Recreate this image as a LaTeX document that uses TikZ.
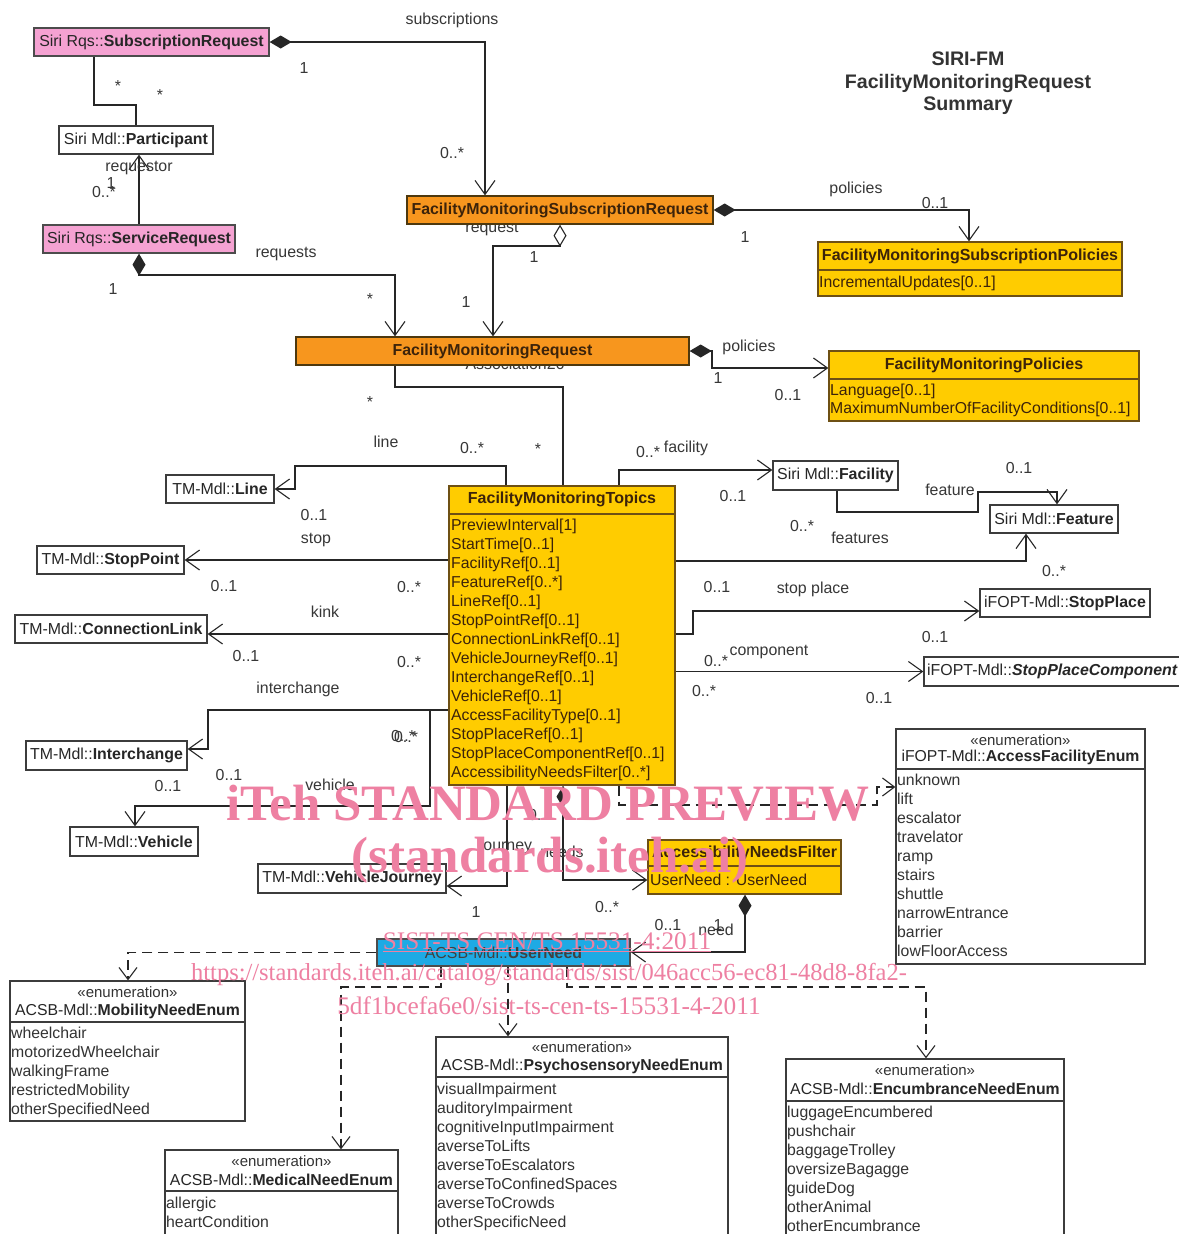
\documentclass[tikz,border=0pt]{standalone}
\usepackage{fontspec}
\setmainfont{Liberation Sans}
\newfontfamily\wmfont{Liberation Serif}
\usetikzlibrary{arrows.meta}
\pgfdeclarelayer{bgzero}
\pgfdeclarelayer{bgone}
\pgfsetlayers{bgzero,bgone,main}
\definecolor{pinkbox}{RGB}{245,162,210}
\definecolor{orangebox}{RGB}{247,150,30}
\definecolor{yellowbox}{RGB}{255,204,0}
\definecolor{bluebox}{RGB}{30,170,228}
\definecolor{boxline}{RGB}{60,60,60}
\definecolor{ybline}{RGB}{110,80,20}
\definecolor{ytext}{RGB}{60,35,10}
\definecolor{lbl}{RGB}{55,55,55}
\definecolor{wm}{RGB}{238,128,162}
\newcommand{\ubox}[7][wbox]{\node[#1, minimum width={#5-#3}, minimum height={#6-#4}] (#2) at ({(#3+#5)/2},{(#4+#6)/2}) {#7};}
\begin{document}
\begin{tikzpicture}[x=1pt,y=-1pt,
  lab/.style={font=\fontsize{15.9}{18}\selectfont, text=lbl, inner sep=0pt, text height=11pt, text depth=0pt},
  boxbase/.style={draw=boxline, line width=1.3pt, inner sep=0pt, font=\fontsize{15.9}{18}\selectfont},
  wbox/.style={boxbase, fill=white, text=black!85},
  pbox/.style={boxbase, fill=pinkbox, draw=black!70, text=black!85},
  obox/.style={boxbase, fill=orangebox, draw=ybline!70!black, text=ytext},
  ybox/.style={boxbase, fill=yellowbox, draw=ybline, text=ytext},
  bbox/.style={boxbase, fill=bluebox, draw=black!70, text=black!75},
  hdr/.style={inner sep=0pt, font=\fontsize{16}{18}\selectfont\bfseries, text=ytext},
  yitem/.style={inner sep=0pt, anchor=west, font=\fontsize{15.8}{18}\selectfont, text=ytext, text height=11pt, text depth=0pt},
  stereo/.style={inner sep=0pt, font=\fontsize{15}{17}\selectfont, text=black!80},
  ename/.style={inner sep=0pt, font=\fontsize{15.8}{18}\selectfont, text=black!85},
  eitem/.style={inner sep=0pt, anchor=west, font=\fontsize{15.8}{18}\selectfont, text=black!80, text height=11pt, text depth=0pt},
  sepy/.style={draw=ybline, line width=1.3pt},
  sepw/.style={draw=boxline, line width=1.3pt},
  ln/.style={draw=black!85, line width=1.2pt},
  nav/.style={ln, -{Straight Barb[length=14pt,width=20pt,line width=1.1pt]}},
  compnav/.style={ln, {Diamond[length=22pt,width=13pt]}-{Straight Barb[length=14pt,width=20pt,line width=1.1pt]}},
  aggnav/.style={ln, {Diamond[open,fill=white,length=22pt,width=13pt,line width=1.1pt]}-{Straight Barb[length=14pt,width=20pt,line width=1.1pt]}},
  depnav/.style={ln, dash pattern=on 10pt off 6pt, -{Straight Barb[length=12pt,width=18pt,line width=1.1pt]}},
  ttl/.style={inner sep=0pt, font=\fontsize{19.6}{22}\selectfont\bfseries, text=black!80},
  wmk/.style={inner sep=0pt, text=wm}
]
\begin{pgfonlayer}{bgzero}
\fill[white] (0,0) rectangle (1178,1234);
\end{pgfonlayer}
\useasboundingbox (0,0) rectangle (1178,1234);

% title
\node[ttl] (t1) at (968,59) {SIRI-FM};
\node[ttl] (t2) at (968,83) {FacilityMonitoringRequest};
\node[ttl] (t3) at (968,106) {Summary};

% ---------- boxes ----------
\ubox[pbox]{subreq}{34}{28}{269}{56}{Siri Rqs::\textbf{SubscriptionRequest}}
\ubox[wbox]{participant}{59}{126}{213}{154}{Siri Mdl::\textbf{Participant}}
\ubox[pbox]{servreq}{43}{225}{235}{253}{Siri Rqs::\textbf{ServiceRequest}}
\ubox[obox]{fmsr}{407}{196}{713}{224}{\textbf{FacilityMonitoringSubscriptionRequest}}
\ubox[ybox]{fmsp}{818}{242}{1122}{296}{}
\node[hdr] (fmsph) at (970,256) {FacilityMonitoringSubscriptionPolicies};
\draw[sepy] (fmsp.west |- 0,270) -- (fmsp.east |- 0,270);
\node[yitem] (fmsp1) at (819,282) {IncrementalUpdates[0..1]};

\ubox[obox]{fmr}{296}{337}{689}{365}{\textbf{FacilityMonitoringRequest}}
\ubox[ybox]{fmp}{829}{351}{1139}{421}{}
\node[hdr] (fmph) at (984,365) {FacilityMonitoringPolicies};
\draw[sepy] (fmp.west |- 0,379) -- (fmp.east |- 0,379);
\node[yitem] (fmp1) at (830,390) {Language[0..1]};
\node[yitem] (fmp2) at (830,408) {MaximumNumberOfFacilityConditions[0..1]};

\ubox[wbox]{line}{166}{475}{274}{503}{TM-Mdl::\textbf{Line}}
\ubox[wbox]{stoppoint}{37}{546}{184}{574}{TM-Mdl::\textbf{StopPoint}}
\ubox[wbox]{connlink}{15}{615}{207}{643}{TM-Mdl::\textbf{ConnectionLink}}
\ubox[wbox]{interchange}{26}{741}{187}{770}{TM-Mdl::\textbf{Interchange}}
\ubox[wbox]{vehicle}{70}{827}{198}{856}{TM-Mdl::\textbf{Vehicle}}
\ubox[wbox]{vj}{258}{864}{446}{893}{TM-Mdl::\textbf{VehicleJourney}}
\ubox[wbox]{facility}{773}{461}{898}{490}{Siri Mdl::\textbf{Facility}}
\ubox[wbox]{feature}{990}{505}{1118}{533}{Siri Mdl::\textbf{Feature}}
\ubox[wbox]{stopplace}{980}{589}{1150}{617}{iFOPT-Mdl::\textbf{StopPlace}}
\ubox[wbox]{spc}{924}{657}{1195}{686}{}
\node[inner sep=0pt, anchor=west, font=\fontsize{15.9}{18}\selectfont, text=black!85] (spct) at (927,671.5) {iFOPT-Mdl::\textbf{\textit{StopPlaceComponent}}};

\ubox[ybox]{fmt}{449}{486}{675}{785}{}
\node[hdr] (fmth) at (562,499) {FacilityMonitoringTopics};
\draw[sepy] (fmt.west |- 0,514) -- (fmt.east |- 0,514);
\foreach \t [count=\i] in {{PreviewInterval[1]},{StartTime[0..1]},{FacilityRef[0..1]},{FeatureRef[0..*]},{LineRef[0..1]},{StopPointRef[0..1]},{ConnectionLinkRef[0..1]},{VehicleJourneyRef[0..1]},{InterchangeRef[0..1]},{VehicleRef[0..1]},{AccessFacilityType[0..1]},{StopPlaceRef[0..1]},{StopPlaceComponentRef[0..1]},{AccessibilityNeedsFilter[0..*]}}
  \node[yitem] (fmti\i) at (451,{525+19*(\i-1)}) {\t};

\ubox[ybox]{anf}{648}{840}{841}{894}{}
\node[hdr] (anfh) at (744.5,853) {AccessibilityNeedsFilter};
\draw[sepy] (anf.west |- 0,866) -- (anf.east |- 0,866);
\node[yitem] (anf1) at (650,880) {UserNeed : UserNeed};

\ubox[bbox]{userneed}{377}{939}{630}{966}{ACSB-Mdl::\textbf{UserNeed}}

% enumerations
\ubox[wbox]{afe}{896}{729}{1145}{964}{}
\node[stereo] (afes) at (1020.5,740) {«enumeration»};
\node[ename] (afen) at (1020.5,757) {iFOPT-Mdl::\textbf{AccessFacilityEnum}};
\draw[sepw] (afe.west |- 0,769) -- (afe.east |- 0,769);
\foreach \t [count=\i] in {unknown,lift,escalator,travelator,ramp,stairs,shuttle,narrowEntrance,barrier,lowFloorAccess}
  \node[eitem] (afei\i) at (897,{780+19*(\i-1)}) {\t};

\ubox[wbox]{mne}{10}{981}{245}{1121}{}
\node[stereo] (mnes) at (127.5,992) {«enumeration»};
\node[ename] (mnen) at (127.5,1011) {ACSB-Mdl::\textbf{MobilityNeedEnum}};
\draw[sepw] (mne.west |- 0,1022) -- (mne.east |- 0,1022);
\foreach \t [count=\i] in {wheelchair,motorizedWheelchair,walkingFrame,restrictedMobility,otherSpecifiedNeed}
  \node[eitem] (mnei\i) at (11,{1033+19*(\i-1)}) {\t};

\ubox[wbox]{medical}{165}{1150}{398}{1245}{}
\node[stereo] (meds) at (281.5,1161) {«enumeration»};
\node[ename] (medn) at (281.5,1180) {ACSB-Mdl::\textbf{MedicalNeedEnum}};
\draw[sepw] (medical.west |- 0,1191) -- (medical.east |- 0,1191);
\foreach \t [count=\i] in {allergic,heartCondition}
  \node[eitem] (medi\i) at (166,{1203+19*(\i-1)}) {\t};

\ubox[wbox]{psycho}{436}{1037}{728}{1245}{}
\node[stereo] (psys) at (582,1047) {«enumeration»};
\node[ename] (psyn) at (582,1066) {ACSB-Mdl::\textbf{PsychosensoryNeedEnum}};
\draw[sepw] (psycho.west |- 0,1077) -- (psycho.east |- 0,1077);
\foreach \t [count=\i] in {visualImpairment,auditoryImpairment,cognitiveInputImpairment,averseToLifts,averseToEscalators,averseToConfinedSpaces,averseToCrowds,otherSpecificNeed}
  \node[eitem] (psyi\i) at (437,{1089+19*(\i-1)}) {\t};

\ubox[wbox]{encum}{786}{1059}{1064}{1245}{}
\node[stereo] (encs) at (925,1070) {«enumeration»};
\node[ename] (encn) at (925,1089) {ACSB-Mdl::\textbf{EncumbranceNeedEnum}};
\draw[sepw] (encum.west |- 0,1101) -- (encum.east |- 0,1101);
\foreach \t [count=\i] in {luggageEncumbered,pushchair,baggageTrolley,oversizeBagagge,guideDog,otherAnimal,otherEncumbrance}
  \node[eitem] (enci\i) at (787,{1112+19*(\i-1)}) {\t};

% ---------- connectors (behind boxes) ----------
\begin{pgfonlayer}{bgone}
\node[lab] (lreq) at (492,227) {request};
\node[lab] (lassoc) at (515,364) {Association26};
\draw[compnav] (subreq.east) -| (485,0 |- fmsr.north);
\draw[ln] (94,0 |- subreq.south) |- (136,105) -- (136,0 |- participant.north);
\draw[nav] (139,0 |- servreq.north) -- (139,0 |- participant.south);
\draw[compnav] (139,0 |- servreq.south) -- (139,275) -| (395,0 |- fmr.north);
\draw[compnav] (fmsr.east) -| (969,0 |- fmsp.north);
\draw[aggnav] (560,0 |- fmsr.south) -- (560,246) -| (493,0 |- fmr.north);
\draw[compnav] (fmr.east) -- (712,351) |- (fmp.west |- 0,368);
\draw[ln] (395,0 |- fmr.south) |- (563,387) -- (563,0 |- fmt.north);
\draw[nav] (506,0 |- fmt.north) -- (506,466) -- (295,466) -- (295,489) -- (line.east);
\draw[nav] (fmt.west |- stoppoint.east) -- (stoppoint.east);
\draw[nav] (fmt.west |- 0,634) -- (connlink.east |- 0,634);
\draw[nav] (fmt.west |- 0,710) -- (208,710) -- (208,749) -- (interchange.east |- 0,749);
\draw[nav] (fmt.west |- 0,710) -- (430,710) -- (430,806) -| (135,0 |- vehicle.north);
\draw[nav] (507,0 |- fmt.south) -- (507,886) -- (vj.east |- 0,886);
\draw[compnav] (563,0 |- fmt.south) -- (563,880) -- (anf.west |- 0,880);
\draw[compnav] (745,0 |- anf.south) -- (745,952) -- (userneed.east |- 0,952);
\draw[depnav] (619,0 |- fmt.south) -- (619,805) -- (877,805) -- (877,787) -- (afe.west |- 0,787);
\draw[nav] (619,0 |- fmt.north) -- (619,470) -- (facility.west |- 0,470);
\draw[nav] (837,0 |- facility.south) -- (837,512) -- (978,512) -- (978,492) -- (1057,492) -- (1057,0 |- feature.north);
\draw[nav] (fmt.east |- 0,561) -- (1026,561) -- (1026,0 |- feature.south);
\draw[nav] (fmt.east |- 0,634) -- (693,634) -- (693,611) -- (stopplace.west |- 0,611);
\draw[nav] (fmt.east |- spc.west) -- (spc.west);
\draw[depnav] (userneed.west) -| (128,0 |- mne.north);
\draw[depnav] (441,0 |- userneed.south) |- (341,987) -- (341,0 |- medical.north);
\draw[depnav] (508,0 |- userneed.south) -- (508,0 |- psycho.north);
\draw[depnav] (567,0 |- userneed.south) |- (926,987) -- (926,0 |- encum.north);
\end{pgfonlayer}

% ---------- connector labels ----------
\foreach \x/\y/\t [count=\i] in {452/19/subscriptions, 304/68/1, 452/153/0..*, 118/86/*, 160/95/*, 139/166/requestor, 111/183/1, 104/192/0..*, 286/252/requests, 113/289/1, 370/299/*, 856/188/policies, 935/203/0..1, 745/237/1, 534/257/1, 466/302/1, 749/346/policies, 718/378/1, 788/395/0..1, 370/402/*, 386/442/line, 472/448/0..*, 538/449/*, 648/452/0..*, 686/447/facility, 314/515/0..1, 316/538/stop, 224/586/0..1, 409/587/0..*, 325/612/kink, 246/656/0..1, 409/662/0..*, 298/688/interchange, 403/736/0..*, 406/737/0..*, 229/775/0..1, 330/785/vehicle, 168/786/0..1, 733/496/0..1, 1019/468/0..1, 950/490/feature, 802/526/0..*, 860/538/features, 1054/571/0..*, 717/587/0..1, 813/588/stop place, 935/637/0..1, 769/650/component, 716/661/0..*, 704/691/0..*, 879/698/0..1, 540/815/0..*, 506/845/journey, 562/852/needs, 476/912/1, 607/907/0..*, 668/925/0..1, 718/925/1, 716/930/need}
  \node[lab] (cl\i) at (\x,\y) {\t};

% ---------- watermark ----------
\node[wmk, font=\wmfont\bfseries\fontsize{51}{56}\selectfont] (wm1) at (548,803) {iTeh STANDARD PREVIEW};
\node[wmk, font=\wmfont\bfseries\fontsize{51}{56}\selectfont] (wm2) at (550,860) {(standards.iteh.ai)};
\node[wmk, font=\wmfont\fontsize{25.3}{28}\selectfont] (wm3) at (547,942) {\underline{SIST-TS CEN/TS 15531-4:2011}};
\node[wmk, font=\wmfont\fontsize{24.5}{28}\selectfont] (wm4) at (549,975) {https://standards.iteh.ai/catalog/standards/sist/046acc56-ec81-48d8-8fa2-};
\node[wmk, font=\wmfont\fontsize{25.3}{28}\selectfont] (wm5) at (549,1006) {5df1bcefa6e0/sist-ts-cen-ts-15531-4-2011};
\end{tikzpicture}
\end{document}
